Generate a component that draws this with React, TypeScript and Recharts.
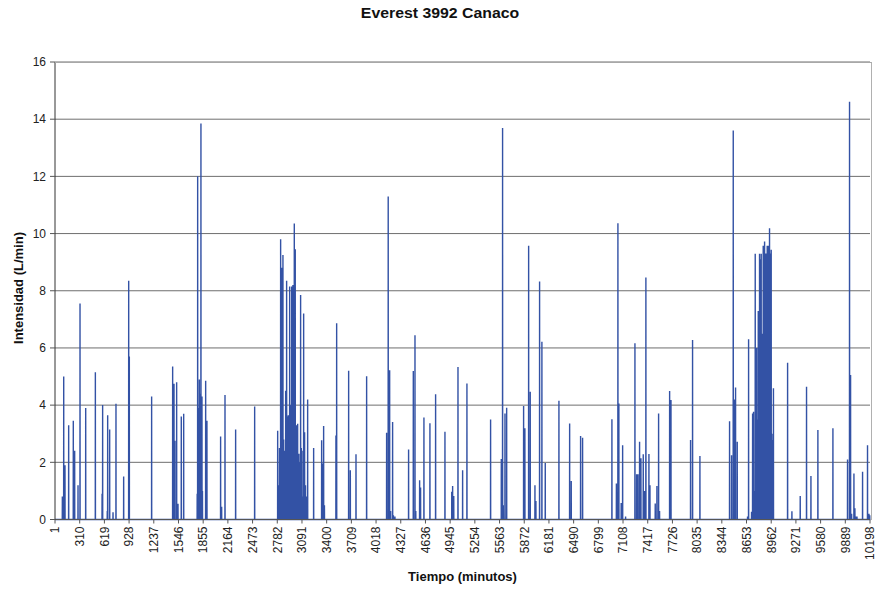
import React from "react";
import { LineChart, Line, XAxis, YAxis, CartesianGrid } from "recharts";

// spikes: minute of the peak and its intensity (L/min)
const earlyMinutes = [
  93, 110, 126, 172, 230, 247, 289, 314, 385, 506, 590, 597, 655, 660, 685, 727, 764, 860, 923, 931,
  1210, 1473, 1480, 1490, 1496, 1502, 1523, 1540, 1581, 1611, 1780, 1786, 1795, 1802, 1807, 1815, 1820,
  1827, 1833, 1840, 1846, 1886, 1902, 2073, 2086, 2128, 2261, 2499, 2787, 2795, 2810, 2824, 2837, 2843,
  2853, 2862, 2870, 2878, 2887, 2899, 2907, 2915, 2920, 2928, 2937, 2945, 2950, 2962, 2970, 2978, 2987,
  2995, 3007, 3015, 3022, 3030, 3037, 3045, 3058, 3066, 3074, 3083, 3091, 3100, 3112, 3118, 3124, 3135,
  3150, 3162, 3237, 3337, 3350, 3362, 3372,
];
const earlyValues = [
  0.8, 5.0, 1.9, 3.3, 3.45, 2.4, 1.2, 7.55, 3.9, 5.15, 0.9, 4.0, 0.3, 3.65, 3.15, 0.25, 4.05, 1.5, 8.35, 5.7,
  4.3, 5.35, 2.6, 4.75, 0.5, 2.75, 4.8, 0.55, 3.6, 3.7, 0.9, 12.0, 3.9, 3.0, 4.9, 2.0, 4.4,
  13.85, 2.5, 4.3, 1.0, 4.85, 3.45, 2.9, 0.45, 4.35, 3.15, 3.95, 3.1, 1.2, 2.5, 9.8, 8.8, 3.4,
  9.25, 2.8, 2.4, 2.1, 4.5, 8.35, 3.6, 2.6, 3.65, 2.8, 8.15, 2.6, 4.0, 8.15, 4.0, 8.2, 3.5,
  10.35, 9.45, 2.6, 3.3, 2.3, 3.35, 2.3, 2.0, 2.3, 7.85, 2.5, 2.4, 0.8, 7.2, 1.5, 3.05, 1.2,
  0.8, 4.2, 2.5, 2.77, 1.96, 3.27, 0.5,
];

const midMinutes = [
  3516, 3525, 3675, 3696, 3767, 3900, 4150, 4170, 4188, 4200, 4225, 4235, 4254, 4425, 4484, 4505, 4515,
  4563, 4575, 4617, 4692, 4763, 4880, 4965, 4976, 4990, 5043, 5101, 5155, 5451, 5585, 5601, 5610, 5631,
  5652, 5864, 5880, 5927, 5947, 6006, 6018, 6064, 6093, 6135, 6306, 6440, 6460, 6577, 6602, 6969,
];
const midValues = [
  2.94, 6.86, 5.2, 1.72, 2.28, 5.01, 3.03, 11.3, 5.22, 0.3, 3.41, 0.15, 0.1, 2.45, 5.19, 6.44, 0.3,
  1.37, 1.12, 3.57, 3.37, 4.38, 3.07, 0.97, 1.17, 0.82, 5.33, 1.72, 4.76, 3.5, 2.12, 13.69, 0.5, 3.71,
  3.91, 3.97, 3.19, 9.57, 4.47, 1.2, 0.65, 8.32, 6.22, 1.98, 4.15, 3.36, 1.35, 2.92, 2.86, 3.51,
];

const lateMinutes = [
  7025, 7044, 7056, 7085, 7103, 7140, 7257, 7278, 7295, 7315, 7332, 7361, 7378, 7394, 7432, 7445, 7511,
  7532, 7553, 7565, 7691, 7708, 7953, 7978, 8070, 8441, 8466, 8487, 8499, 8516, 8537, 8666, 8679, 8716,
  8729, 8741, 8750, 8762, 8770, 8780, 8788, 8800, 8808, 8816, 8822, 8830, 8837, 8845, 8854, 8862, 8870,
  8879, 8887, 8895, 8903, 8912, 8920, 8929, 8935, 8941, 8948, 8955, 8962, 8970, 8983, 8990, 9167, 9221,
  9325, 9404, 9459, 9546, 9734, 9917, 9942, 9955, 9968, 9997, 10009, 10020, 10035, 10105, 10167, 10185,
  10195,
];
const lateValues = [
  1.26, 10.36, 4.06, 0.58, 2.6, 0.1, 6.16, 1.58, 1.58, 2.72, 2.14, 2.28, 1.0, 8.46, 2.29, 1.2, 0.56,
  1.17, 3.71, 0.3, 4.49, 4.18, 2.78, 6.28, 2.22, 3.44, 2.25, 13.6, 4.2, 4.62, 2.72, 0.1, 6.3, 0.27,
  3.71, 3.77, 1.0, 9.29, 3.0, 6.0, 3.5, 7.29, 5.0, 9.29, 8.5, 9.1, 9.29, 6.5, 4.47, 9.57, 8.8,
  9.72, 6.0, 9.3, 4.0, 9.57, 8.0, 9.57, 8.5, 10.19, 7.0, 9.3, 9.43, 3.0, 2.78, 4.59, 5.48, 0.29,
  0.82, 4.64, 1.52, 3.13, 3.19, 2.1, 14.61, 5.05, 0.2, 1.61, 0.39, 0.1, 0.1, 1.67, 2.6, 0.2,
  0.15,
];

const xTicks = [
  1, 310, 619, 928, 1237, 1546, 1855, 2164, 2473, 2782, 3091, 3400, 3709, 4018, 4327, 4636, 4945,
  5254, 5563, 5872, 6181, 6490, 6799, 7108, 7417, 7726, 8035, 8344, 8653, 8962, 9271, 9580, 9889, 10198,
];
const yTicks = [0, 2, 4, 6, 8, 10, 12, 14, 16];

const FONT = "'Liberation Sans', Arial, sans-serif";

const minutes = [...earlyMinutes, ...midMinutes, ...lateMinutes];
const values = [...earlyValues, ...midValues, ...lateValues];

// minute series is zero between the spikes
const data: { t: number; v: number }[] = [{ t: 1, v: 0 }];
minutes.forEach((m, i) => {
  const last = data[data.length - 1].t;
  if (m - 1 > last) data.push({ t: m - 1, v: 0 });
  data.push({ t: m, v: values[i] });
  if (m + 1 < 10198) data.push({ t: m + 1, v: 0 });
});
data.push({ t: 10198, v: 0 });

const XTick = ({ x, y, payload }: any) => (
  <text
    x={x}
    y={y}
    transform={`rotate(-90, ${x}, ${y})`}
    textAnchor="end"
    dy="0.36em"
    fontSize={12}
    fontFamily={FONT}
    fill="#222"
  >
    {payload.value}
  </text>
);

export default function App() {
  return (
    <div style={{ position: "absolute", left: 0, top: 0, width: 880, height: 590, background: "#fff" }}>
      <div
        style={{
          position: "absolute",
          left: 0,
          top: 5,
          width: 880,
          textAlign: "center",
          fontFamily: FONT,
          fontWeight: "bold",
          fontSize: 14,
          color: "#111",
          transform: "scaleX(1.13)",
        }}
      >
        Everest 3992 Canaco
      </div>
      <LineChart
        width={880}
        height={590}
        data={data}
        margin={{ top: 62, right: 10, left: 0, bottom: 0 }}
      >
        <CartesianGrid vertical={false} stroke="#6e6e6e" strokeWidth={1} />
        <XAxis
          dataKey="t"
          type="number"
          domain={[1, 10198]}
          ticks={xTicks}
          interval={0}
          height={70.5}
          tick={<XTick />}
          tickSize={4}
          tickMargin={3}
          axisLine={{ stroke: "#555" }}
          tickLine={{ stroke: "#555" }}
        />
        <YAxis
          domain={[0, 16]}
          ticks={yTicks}
          interval={0}
          width={55}
          tickSize={5}
          tickMargin={4}
          tick={{ fontSize: 12, fontFamily: FONT, fill: "#222" }}
          axisLine={{ stroke: "#333" }}
          tickLine={{ stroke: "#555" }}
        />
        <Line
          type="linear"
          dataKey="v"
          stroke="#3352a5"
          strokeWidth={1.4}
          dot={false}
          isAnimationActive={false}
        />
      </LineChart>
      {/* light frame on the top and right of the plot area */}
      <div
        style={{
          position: "absolute",
          left: 55,
          top: 61.5,
          width: 817,
          height: 458,
          borderTop: "1px solid #a8a8a8",
          borderRight: "1.5px solid #b0b0b0",
          boxSizing: "border-box",
          pointerEvents: "none",
        }}
      />
      <div
        style={{
          position: "absolute",
          left: 55,
          top: 569,
          width: 815,
          textAlign: "center",
          fontFamily: FONT,
          fontWeight: "bold",
          fontSize: 13,
          color: "#111",
        }}
      >
        Tiempo (minutos)
      </div>
      <div
        style={{
          position: "absolute",
          left: 18,
          top: 288,
          transform: "translate(-50%, -50%) rotate(-90deg)",
          whiteSpace: "nowrap",
          fontFamily: FONT,
          fontWeight: "bold",
          fontSize: 13,
          color: "#111",
        }}
      >
        Intensidad (L/min)
      </div>
    </div>
  );
}
